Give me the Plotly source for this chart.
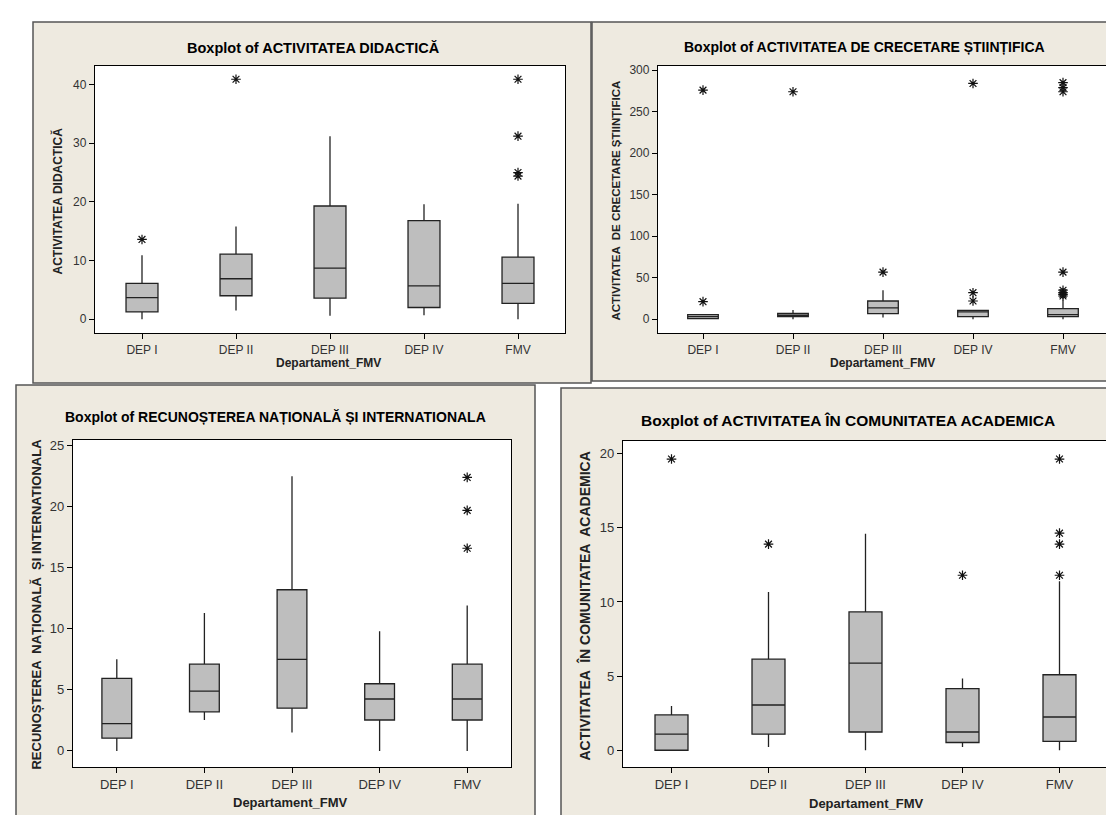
import plotly.graph_objects as go

W, H = 1114, 815

categories = ["DEP I", "DEP II", "DEP III", "DEP IV", "FMV"]

# Panel 1: ACTIVITATEA DIDACTICĂ
did_low = [0, 1.5, 0.6, 0.7, 0]
did_q1 = [1.25, 4.0, 3.6, 2.0, 2.7]
did_med = [3.7, 6.9, 8.7, 5.7, 6.1]
did_q3 = [6.1, 11.1, 19.3, 16.8, 10.6]
did_high = [10.9, 15.8, 31.2, 19.6, 19.7]
did_out_x = ["DEP I", "DEP II", "FMV", "FMV", "FMV", "FMV"]
did_out_y = [13.6, 40.9, 40.9, 31.2, 25.0, 24.4]

# Panel 2: ACTIVITATEA DE CRECETARE ȘTIINȚIFICA
cer_low = [0, 0, 2, 0, 0]
cer_q1 = [0.8, 3.2, 6.8, 3.2, 3.2]
cer_med = [3.2, 4.8, 13.6, 8.8, 5.6]
cer_q3 = [5.6, 7.2, 22.0, 10.8, 12.8]
cer_high = [5.6, 11.2, 34.8, 10.8, 22.8]
cer_out_x = ["DEP I", "DEP I", "DEP II", "DEP III", "DEP IV", "DEP IV", "DEP IV",
             "FMV", "FMV", "FMV", "FMV", "FMV", "FMV", "FMV", "FMV"]
cer_out_y = [276, 21.2, 274, 56.8, 284, 32, 22,
             285, 279, 274, 56.8, 35, 32, 30, 28]

# Panel 3: RECUNOȘTEREA NAȚIONALĂ ȘI INTERNATIONALA
rec_low = [0, 2.53, 1.5, 0, 0]
rec_q1 = [1.04, 3.2, 3.5, 2.53, 2.53]
rec_med = [2.23, 4.9, 7.5, 4.25, 4.25]
rec_q3 = [5.94, 7.1, 13.2, 5.5, 7.1]
rec_high = [7.5, 11.3, 22.5, 9.8, 11.9]
rec_out_x = ["FMV", "FMV", "FMV"]
rec_out_y = [22.4, 19.7, 16.6]

# Panel 4: ACTIVITATEA ÎN COMUNITATEA ACADEMICA
com_low = [0, 0.22, 0, 0.22, 0]
com_q1 = [0, 1.08, 1.23, 0.52, 0.6]
com_med = [1.08, 3.05, 5.87, 1.23, 2.24]
com_q3 = [2.38, 6.14, 9.33, 4.15, 5.09]
com_high = [2.98, 10.67, 14.6, 4.84, 11.4]
com_out_x = ["DEP I", "DEP II", "DEP IV", "FMV", "FMV", "FMV", "FMV"]
com_out_y = [19.64, 13.9, 11.8, 19.64, 14.64, 13.9, 11.8]

titles = [
    "Boxplot of ACTIVITATEA DIDACTICĂ",
    "Boxplot of ACTIVITATEA DE CRECETARE ȘTIINȚIFICA",
    "Boxplot of RECUNOȘTEREA NAȚIONALĂ ȘI INTERNATIONALA",
    "Boxplot of ACTIVITATEA ÎN COMUNITATEA ACADEMICA",
]
ytitles = [
    "ACTIVITATEA DIDACTICĂ",
    "ACTIVITATEA  DE CRECETARE ȘTIINȚIFICA",
    "RECUNOȘTEREA  NAȚIONALĂ  ȘI INTERNATIONALA",
    "ACTIVITATEA  ÎN COMUNITATEA  ACADEMICA",
]
xtitle = "Departament_FMV"

y_ticks = [[0, 10, 20, 30, 40], [0, 50, 100, 150, 200, 250, 300],
           [0, 5, 10, 15, 20, 25], [0, 5, 10, 15, 20]]

# ---------- layout geometry (pixels) ----------
frames = [(25, 12, 583, 374), (584, 12, 1125, 372), (8, 376, 527, 830), (553, 379, 1125, 830)]
plots = [(87, 56, 557, 324), (650, 56, 1100, 324), (65, 431, 503, 759), (615, 432, 1100, 759)]
yranges = [[-2.38, 43.18], [-16.8, 305.2], [-1.33, 25.47], [-1.14, 20.86]]
title_pos = [(305, 38, 14.5), (856, 37, 14), (267, 408, 14), (840, 412, 15.5)]
xt_pos = [(320, 354, 12), (874, 354, 12), (282, 794, 13), (858, 795, 13)]
yt_pos = [(50, 192, 12), (608, 191, 11.5), (29, 596, 13), (577, 598, 14)]
tick_size = [12, 12, 13, 13]


def px(x):
    return x / W


def py(y):
    return 1 - y / H


BEIGE = "#EEEAE0"
FRAME = "#555555"
BOXFILL = "#BEBEBE"

TICKFONT = "Liberation Sans Narrow, Arial Narrow, Liberation Sans, Arial, sans-serif"
BOLDFONT = "Liberation Sans, Arial, sans-serif"

fig = go.Figure()

panels = [
    (did_low, did_q1, did_med, did_q3, did_high, did_out_x, did_out_y),
    (cer_low, cer_q1, cer_med, cer_q3, cer_high, cer_out_x, cer_out_y),
    (rec_low, rec_q1, rec_med, rec_q3, rec_high, rec_out_x, rec_out_y),
    (com_low, com_q1, com_med, com_q3, com_high, com_out_x, com_out_y),
]

shapes = []
annotations = []
layout_axes = {}

for i, (lo, q1, med, q3, hi, ox, oy) in enumerate(panels):
    n = "" if i == 0 else str(i + 1)
    xa, ya = "x" + n, "y" + n
    fig.add_trace(go.Box(
        x=categories, q1=q1, median=med, q3=q3, lowerfence=lo, upperfence=hi,
        width=0.34, whiskerwidth=0, boxpoints=False,
        fillcolor=BOXFILL, line=dict(color="#222222", width=1.3),
        xaxis=xa, yaxis=ya, showlegend=False, hoverinfo="skip",
    ))
    fig.add_trace(go.Scatter(
        x=ox, y=oy, mode="markers",
        marker=dict(symbol="asterisk-open", size=8, color="#111111",
                    line=dict(color="#111111", width=1.2)),
        xaxis=xa, yaxis=ya, showlegend=False, hoverinfo="skip",
    ))

    fx0, fy0, fx1, fy1 = frames[i]
    shapes.append(dict(type="rect", xref="paper", yref="paper",
                       x0=px(fx0), x1=px(fx1), y0=py(fy1), y1=py(fy0),
                       fillcolor=BEIGE, line=dict(color=FRAME, width=1.5), layer="below"))
    ax0, ay0, ax1, ay1 = plots[i]
    shapes.append(dict(type="rect", xref="paper", yref="paper",
                       x0=px(ax0), x1=px(ax1), y0=py(ay1), y1=py(ay0),
                       fillcolor="white", line=dict(width=0), layer="below"))

    layout_axes["xaxis" + n] = dict(
        domain=[px(ax0), px(ax1)], anchor=ya, type="category",
        categoryorder="array", categoryarray=categories,
        range=[-0.5, 4.5], showgrid=False, zeroline=False,
        showline=True, linecolor="black", linewidth=1.3, mirror=True,
        ticks="outside", ticklen=5, tickcolor="black", tickwidth=1,
        tickfont=dict(family=TICKFONT, size=tick_size[i], color="#333333"),
        fixedrange=True,
    )
    layout_axes["yaxis" + n] = dict(
        domain=[py(ay1), py(ay0)], anchor=xa, range=yranges[i],
        tickmode="array", tickvals=y_ticks[i],
        showgrid=False, zeroline=False,
        showline=True, linecolor="black", linewidth=1.3, mirror=True,
        ticks="outside", ticklen=5, tickcolor="black", tickwidth=1,
        tickfont=dict(family=TICKFONT, size=tick_size[i], color="#333333"),
        fixedrange=True,
    )

    tx, ty, ts = title_pos[i]
    annotations.append(dict(text="<b>" + titles[i] + "</b>", x=px(tx), y=py(ty),
                            xref="paper", yref="paper", xanchor="center", yanchor="middle",
                            showarrow=False, font=dict(family=BOLDFONT, size=ts, color="black")))
    xx, xy, xs = xt_pos[i]
    annotations.append(dict(text="<b>" + xtitle + "</b>", x=px(xx), y=py(xy),
                            xref="paper", yref="paper", xanchor="center", yanchor="middle",
                            showarrow=False, font=dict(family=BOLDFONT, size=xs, color="#222222")))
    yx, yy, ys = yt_pos[i]
    annotations.append(dict(text="<b>" + ytitles[i] + "</b>", x=px(yx), y=py(yy),
                            xref="paper", yref="paper", xanchor="center", yanchor="middle",
                            textangle=-90, showarrow=False,
                            font=dict(family=BOLDFONT, size=ys, color="#222222")))

fig.update_layout(
    width=W, height=H, margin=dict(l=0, r=0, t=0, b=0),
    paper_bgcolor="white", plot_bgcolor="rgba(0,0,0,0)",
    shapes=shapes, annotations=annotations, **layout_axes,
)

fig.write_html("out.html")
